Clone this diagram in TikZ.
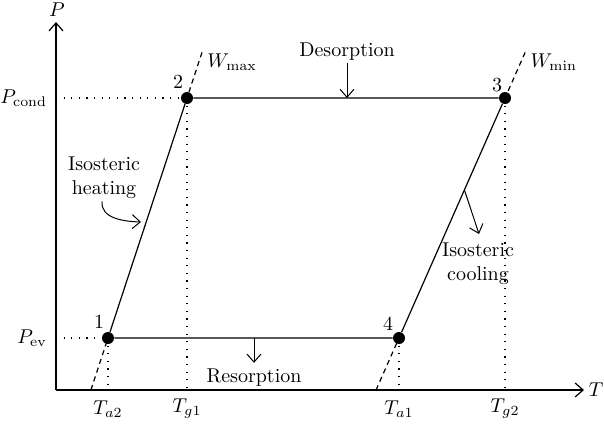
\documentclass[tikz,border=0pt]{standalone}
\usepackage{tikz}
\usetikzlibrary{arrows.meta,calc}

\begin{document}
\begin{tikzpicture}[
    x=0.5pt, y=-0.5pt,
    axisline/.style={black, line width=0.6pt, -{Straight Barb[length=4pt,width=7pt]}},
    cycleline/.style={black, line width=0.6pt},
    extline/.style={black, line width=0.6pt, dash pattern=on 2.6pt off 2pt},
    guideline/.style={black, line width=0.6pt, dash pattern=on 0.6pt off 3.2pt},
    statedot/.style={circle, fill=black, inner sep=0pt, minimum size=6pt},
    pointer/.style={black, line width=0.5pt, -{Straight Barb[length=4pt,width=7pt]}},
    numlabel/.style={font=\normalsize, inner sep=1pt},
    steplabel/.style={font=\normalsize, align=center, inner sep=1pt},
]
\useasboundingbox (0,0) rectangle (604,424);

% ── Axes ────────────────────────────────────────────────────
\coordinate (origin) at (56,390);
\coordinate (ptop) at (56,22);
\coordinate (tend) at (584,390);
\draw[axisline] (origin) -- (ptop);
\draw[axisline] (origin) -- (tend);
\node (plabel) at (57,10) {$P$};
\node (tlabel) at (596,390) {$T$};

% ── States of the cycle ─────────────────────────────────────
\node[statedot] (p1) at (108,338) {};
\node[statedot] (p2) at (187,98) {};
\node[statedot] (p3) at (505,98) {};
\node[statedot] (p4) at (399,338) {};

\node[numlabel] (n1) at (99,322) {1};
\node[numlabel] (n2) at (178,82) {2};
\node[numlabel] (n3) at (497,85) {3};
\node[numlabel] (n4) at (388,324) {4};

% ── Guide lines to the axes ─────────────────────────────────
\draw[guideline] (origin |- p2) -- (p2.center);
\draw[guideline] (origin |- p1) -- (p1.center);
\foreach \p in {p1,p2,p3,p4} {
    \draw[guideline] (\p.center) -- (\p |- origin);
}

% ── Isosteres (dashed extensions) ───────────────────────────
\draw[extline] ($(p1.center)!1.19!(p2.center)$) coordinate (wmaxend) -- (p2.center);
\draw[extline] ($(p2.center)!1.217!(p1.center)$) -- (p1.center);
\draw[extline] ($(p4.center)!1.19!(p3.center)$) coordinate (wminend) -- (p3.center);
\draw[extline] ($(p3.center)!1.217!(p4.center)$) -- (p4.center);

% ── Cycle ───────────────────────────────────────────────────
\draw[cycleline] (p1) -- (p2) -- (p3) -- (p4) -- (p1);

% ── Axis values ─────────────────────────────────────────────
\node[anchor=east] (pcond) at ([xshift=-1pt]origin |- p2) {$P_{\mathrm{cond}}$};
\node[anchor=east] (pev) at ([xshift=-1pt]origin |- p1) {$P_{\mathrm{ev}}$};
\node (ta2) at ($(p1 |- origin)+(0,19)$) {$T_{a2}$};
\node (tg1) at ($(p2 |- origin)+(0,19)$) {$T_{g1}$};
\node (ta1) at ($(p4 |- origin)+(0,19)$) {$T_{a1}$};
\node (tg2) at ($(p3 |- origin)+(0,19)$) {$T_{g2}$};

\node[anchor=west, inner sep=1pt] (wmax) at ($(wmaxend)+(3,10)$) {$W_{\max}$};
\node[anchor=west, inner sep=1pt] (wmin) at ($(wminend)+(3,10)$) {$W_{\min}$};

% ── Process labels ──────────────────────────────────────────
\node[steplabel] (desorb) at (347,52) {Desorption};
\draw[pointer] (desorb.south) -- (desorb.south |- p2);

\node[steplabel] (resorb) at (254,378) {Resorption};
\draw[pointer] (resorb.north |- p1) -- ([yshift=2pt]resorb.north);

\node[steplabel] (heat) at (104,178) {Isosteric\\heating};
\coordinate (heatend) at (141,222);
\draw[pointer] ([xshift=-1pt]heat.south) to[out=-95,in=178] (heatend);

\node[steplabel] (cool) at (478,264) {Isosteric\\cooling};
\coordinate (coolstart) at ($(p3.center)!0.383!(p4.center)$);
\draw[pointer] (coolstart) -- (479,234) coordinate (coolend);

\end{tikzpicture}
\end{document}
